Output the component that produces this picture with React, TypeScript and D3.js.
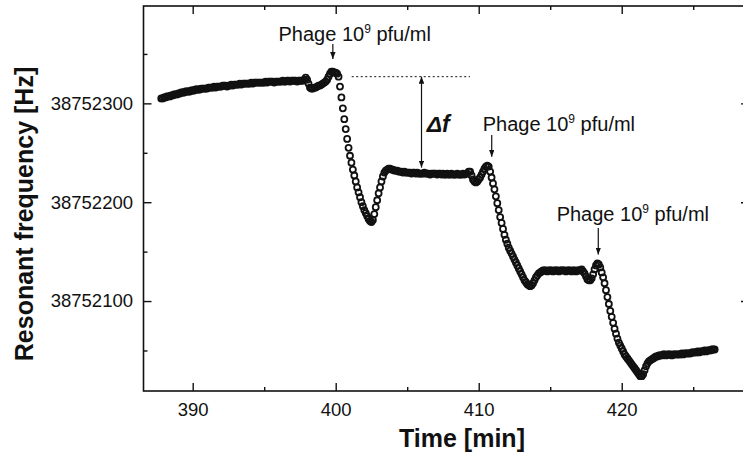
import React, { useEffect, useRef } from 'react';
import * as d3 from 'd3';

// resonant frequency readings, Hz above BASE_HZ, one reading every STEP_MIN minutes
const BASE_HZ = 38752000;
const STEP_MIN = 0.1;

const baselineStart = 387.8;
const baselineHz = [
  305, 305,
  306, 306, 307, 307, 307, 308, 308, 309, 309, 309, // 388
  310, 310, 311, 311, 311, 312, 312, 312, 312, 313, // 389
  313, 313, 314, 314, 314, 314, 315, 315, 315, 315, // 390
  315, 316, 316, 316, 316, 317, 316, 317, 317, 317, // 391
  317, 318, 318, 318, 317, 318, 318, 319, 318, 319, // 392
  319, 319, 319, 320, 319, 320, 320, 320, 320, 320, // 393
  320, 321, 320, 321, 321, 321, 321, 321, 321, 321, // 394
  321, 322, 321, 322, 322, 322, 322, 321, 322, 322, // 395
  322, 322, 322, 323, 322, 322, 323, 323, 322, 323, // 396
  323, 323, 323, 322, 323, 323, 323, 323, 324, 326, // 397
  324, 320, 316, 315, 315, 316, 316, 317, 318, 318, // 398
  319, 320, 321, 322, 324, 327, 330, 332, 332, 331  // 399
];

const drop1Start = 400.0;
const drop1Hz = [
  331, 330, 327, 317, 306, 295, 284, 274, 264, 255, // 400
  247, 240, 233, 227, 221, 215, 210, 205, 200, 196, // 401
  192, 189, 186, 183, 181, 180, 182, 188, 195, 202, // 402
  209, 215, 221, 226, 230, 232, 233, 234, 234, 233  // 403
];

const plateau1Start = 404.0;
const plateau1Hz = [
  233, 232, 232, 232, 231, 231, 231, 230, 231, 230, // 404
  230, 230, 230, 229, 230, 230, 229, 230, 229, 229, // 405
  229, 229, 230, 229, 229, 229, 228, 229, 229, 229, // 406
  229, 228, 229, 229, 228, 229, 228, 228, 229, 228, // 407
  228, 229, 228, 228, 228, 229, 228, 228, 228, 229, // 408
  228, 229, 229, 231, 231, 227, 223, 221, 220, 221, // 409
  223, 225, 228, 231, 234, 236, 237                 // 410.0 - 410.6
];

const drop2Start = 410.7;
const drop2Hz = [
  236, 231, 225,
  219, 213, 206, 199, 192, 185, 179, 173, 167, 162, // 411
  158, 154, 151, 148, 145, 142, 139, 136, 133, 130, // 412
  127, 124, 121, 119, 117, 116, 115, 116, 118, 121, // 413
  124, 126, 128, 129, 130                           // 414.0 - 414.4
];

const plateau2Start = 414.5;
const plateau2Hz = [
  131, 131, 131, 130, 131,
  131, 131, 130, 131, 131, 131, 130, 131, 131, 131, // 415
  131, 130, 131, 131, 131, 130, 131, 131, 130, 131, // 416
  131, 131, 132, 130, 128, 125, 122, 121, 121, 123, // 417
  127, 132, 136, 138, 137                           // 418.0 - 418.4
];

const drop3Start = 418.5;
const drop3Hz = [
  134, 129, 124, 118, 111,
  104, 97, 90, 84, 78, 72, 67, 62, 58, 55, // 419
  52, 49, 46, 44, 42, 40, 38, 36, 34, 32,  // 420
  30, 28, 26, 24, 24, 26, 30, 34, 37, 39   // 421
];

const tailStart = 422.0;
const tailHz = [
  40, 41, 42, 43, 44, 44, 45, 45, 45, 46, // 422
  46, 45, 46, 46, 46, 45, 46, 46, 46, 46, // 423
  46, 46, 47, 46, 47, 47, 47, 47, 47, 48, // 424
  48, 48, 48, 49, 48, 49, 49, 49, 50, 49, // 425
  50, 50, 50, 51, 51, 51                  // 426.0 - 426.5
];

const xMajor = [390, 400, 410, 420];
const xMinor = [395, 405, 415, 425];
const yMajor = [38752100, 38752200, 38752300];
const yMinor = [38752050, 38752150, 38752250, 38752350];

// injections: label start (min, Hz), arrow time and Hz from/to
const phageNotes = [
  { t: 396.0, f: 363, arrowT: 399.8, from: 360, to: 345 },
  { t: 410.28, f: 272, arrowT: 410.91, from: 268, to: 246 },
  { t: 415.45, f: 181, arrowT: 418.36, from: 174, to: 147 }
];

const W = 743;
const H = 457;
const plot = { left: 143.5, right: 749, top: 6, bottom: 391 };
const FONT = '"Liberation Sans", Arial, Helvetica, sans-serif';

export default function App() {
  const ref = useRef<SVGSVGElement>(null);

  useEffect(() => {
    const svg = d3.select(ref.current);
    svg.selectAll('*').remove();

    const x = d3.scaleLinear().domain([386.56, 428.9]).range([plot.left, plot.right]);
    const y = d3.scaleLinear().domain([BASE_HZ + 9, BASE_HZ + 398.5]).range([plot.bottom, plot.top]);

    const segments: [number, number[]][] = [
      [baselineStart, baselineHz],
      [drop1Start, drop1Hz],
      [plateau1Start, plateau1Hz],
      [drop2Start, drop2Hz],
      [plateau2Start, plateau2Hz],
      [drop3Start, drop3Hz],
      [tailStart, tailHz]
    ];
    const points = segments.flatMap(([start, hz]) =>
      hz.map((v, i) => ({ t: start + i * STEP_MIN, f: BASE_HZ + v }))
    );

    svg.append('rect').attr('width', W).attr('height', H).attr('fill', '#fff');

    const defs = svg.append('defs');
    defs.append('marker')
      .attr('id', 'head')
      .attr('viewBox', '0 0 10 10')
      .attr('refX', 10)
      .attr('refY', 5)
      .attr('markerUnits', 'userSpaceOnUse')
      .attr('markerWidth', 7)
      .attr('markerHeight', 5.5)
      .attr('preserveAspectRatio', 'none')
      .attr('orient', 'auto-start-reverse')
      .append('path')
      .attr('d', 'M0,0 L10,5 L0,10 z')
      .attr('fill', '#111');

    // Axes //
    const styleAxis = (g: any, size: number) => {
      g.select('.domain').remove();
      g.selectAll('line').attr('stroke', '#111').attr('stroke-width', 1.4);
      g.selectAll('text').attr('font-size', size).attr('font-family', FONT).attr('fill', '#111');
    };

    svg.append('g')
      .attr('transform', `translate(0,${plot.bottom})`)
      .call(d3.axisBottom(x).tickValues(xMajor).tickSize(-8).tickSizeOuter(0).tickPadding(12).tickFormat(d3.format('d')) as any)
      .call((g: any) => styleAxis(g, 18.5));
    svg.append('g')
      .attr('transform', `translate(0,${plot.bottom})`)
      .call(d3.axisBottom(x).tickValues(xMinor).tickSize(-4).tickSizeOuter(0).tickFormat(() => '') as any)
      .call((g: any) => styleAxis(g, 10));
    svg.append('g')
      .attr('transform', `translate(0,${plot.top})`)
      .call(d3.axisTop(x).tickValues(xMajor).tickSize(-8).tickSizeOuter(0).tickFormat(() => '') as any)
      .call((g: any) => styleAxis(g, 10));
    svg.append('g')
      .attr('transform', `translate(0,${plot.top})`)
      .call(d3.axisTop(x).tickValues(xMinor).tickSize(-4).tickSizeOuter(0).tickFormat(() => '') as any)
      .call((g: any) => styleAxis(g, 10));

    svg.append('g')
      .attr('transform', `translate(${plot.left},0)`)
      .call(d3.axisLeft(y).tickValues(yMajor).tickSize(-8).tickSizeOuter(0).tickPadding(10.5).tickFormat(d3.format('d')) as any)
      .call((g: any) => styleAxis(g, 18.5));
    svg.append('g')
      .attr('transform', `translate(${plot.left},0)`)
      .call(d3.axisLeft(y).tickValues(yMinor).tickSize(-4).tickSizeOuter(0).tickFormat(() => '') as any)
      .call((g: any) => styleAxis(g, 10));
    svg.append('g')
      .attr('transform', `translate(${plot.right},0)`)
      .call(d3.axisRight(y).tickValues(yMajor).tickSize(-8).tickSizeOuter(0).tickFormat(() => '') as any)
      .call((g: any) => styleAxis(g, 10));
    svg.append('g')
      .attr('transform', `translate(${plot.right},0)`)
      .call(d3.axisRight(y).tickValues(yMinor).tickSize(-4).tickSizeOuter(0).tickFormat(() => '') as any)
      .call((g: any) => styleAxis(g, 10));

    svg.append('rect')
      .attr('x', plot.left)
      .attr('y', plot.top)
      .attr('width', plot.right - plot.left)
      .attr('height', plot.bottom - plot.top)
      .attr('fill', 'none')
      .attr('stroke', '#111')
      .attr('stroke-width', 1.6);

    // Axis titles //
    svg.append('text')
      .attr('x', 462)
      .attr('y', 447)
      .attr('text-anchor', 'middle')
      .attr('font-family', FONT)
      .attr('font-weight', 'bold')
      .attr('font-size', 25)
      .attr('fill', '#111')
      .text('Time [min]');

    svg.append('text')
      .attr('transform', 'translate(33,214) rotate(-90)')
      .attr('text-anchor', 'middle')
      .attr('font-family', FONT)
      .attr('font-weight', 'bold')
      .attr('font-size', 25)
      .attr('fill', '#111')
      .text('Resonant frequency [Hz]');

    // Data Points //
    svg.append('g')
      .selectAll('circle')
      .data(points)
      .join('circle')
      .attr('cx', d => x(d.t))
      .attr('cy', d => y(d.f))
      .attr('r', 3.0)
      .attr('fill', 'none')
      .attr('stroke', '#111')
      .attr('stroke-width', 1.8);

    // Annotations //
    phageNotes.forEach(n => {
      const label = svg.append('text')
        .attr('x', x(n.t))
        .attr('y', y(BASE_HZ + n.f))
        .attr('font-family', FONT)
        .attr('font-size', 20)
        .attr('fill', '#111');
      label.append('tspan').text('Phage 10');
      label.append('tspan').attr('font-size', 12).attr('dy', -8).text('9');
      label.append('tspan').attr('dy', 8).text(' pfu/ml');

      svg.append('line')
        .attr('x1', x(n.arrowT))
        .attr('x2', x(n.arrowT))
        .attr('y1', y(BASE_HZ + n.from))
        .attr('y2', y(BASE_HZ + n.to))
        .attr('stroke', '#111')
        .attr('stroke-width', 1.2)
        .attr('marker-end', 'url(#head)');
    });

    // peak level and frequency shift
    svg.append('line')
      .attr('x1', x(401.12))
      .attr('x2', x(409.39))
      .attr('y1', y(BASE_HZ + 327))
      .attr('y2', y(BASE_HZ + 327))
      .attr('stroke', '#111')
      .attr('stroke-width', 1)
      .attr('stroke-dasharray', '2,2.5');

    svg.append('line')
      .attr('x1', x(406.0))
      .attr('x2', x(406.0))
      .attr('y1', y(BASE_HZ + 327))
      .attr('y2', y(BASE_HZ + 235))
      .attr('stroke', '#111')
      .attr('stroke-width', 1.2)
      .attr('marker-start', 'url(#head)')
      .attr('marker-end', 'url(#head)');

    svg.append('text')
      .attr('x', x(406.36))
      .attr('y', y(BASE_HZ + 271))
      .attr('font-family', FONT)
      .attr('font-weight', 'bold')
      .attr('font-style', 'italic')
      .attr('font-size', 23)
      .attr('fill', '#111')
      .text('Δf');
  }, []);

  return (
    <svg
      ref={ref}
      width={W}
      height={H}
      style={{ position: 'absolute', left: 0, top: 0 }}
    />
  );
}
